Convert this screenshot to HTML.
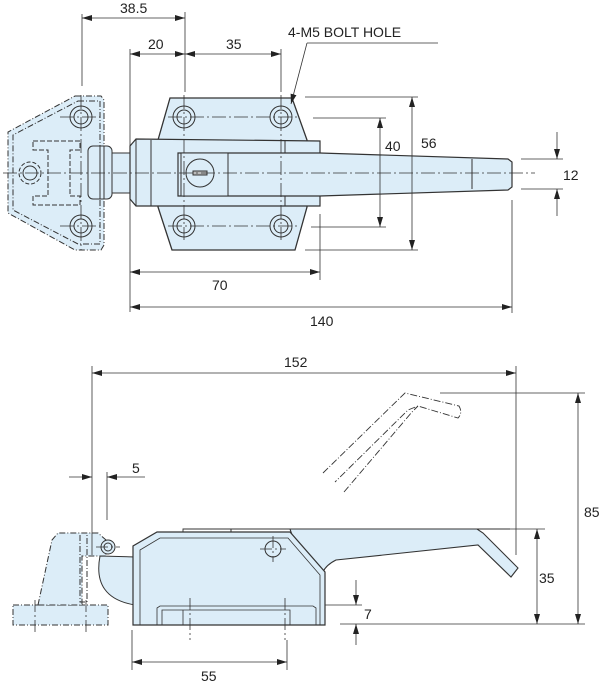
<!DOCTYPE html>
<html><head><meta charset="utf-8"><style>
html,body{margin:0;padding:0;background:#fff}
svg{display:block}
text{font-family:"Liberation Sans",sans-serif;font-size:14px;fill:#222}
</style></head><body>
<svg width="600" height="683" viewBox="0 0 600 683" xmlns="http://www.w3.org/2000/svg">
<defs>
<marker id="a" viewBox="0 0 10 6" refX="10" refY="3" markerWidth="10" markerHeight="6" orient="auto-start-reverse" markerUnits="userSpaceOnUse"><path d="M0,0 L10,3 L0,6z" fill="#222"/></marker>
</defs>
<g stroke="#333" stroke-width="1" fill="none">
<!-- ===== TOP VIEW ===== -->
<!-- hinge (dashed) -->
<path d="M75,96 L101,96 L104,100 L104,245 L101,250 L75,250 L8,213 L8,132 Z" fill="#dcedf8" stroke-dasharray="6,2,1,2"/>
<path d="M78,101 L100,101 L100,244 L78,244 L13,210 L13,135 Z" stroke-dasharray="6,2,1,2"/>
<path d="M33,141 L80,141 L80,150 L70,150 L70,196 L80,196 L80,205 L33,205 L33,196 L48,196 L48,150 L33,150 Z" stroke-dasharray="5,2"/>
<circle cx="81" cy="117" r="11"/><circle cx="81" cy="117" r="7"/>
<circle cx="81" cy="226" r="11"/><circle cx="81" cy="226" r="7"/>
<circle cx="30" cy="173" r="11" stroke-dasharray="4,2"/><circle cx="30" cy="173" r="7"/>
<!-- plate -->
<path d="M170,98 L292,98 L307,140 L307,207 L295,250 L172,250 L158,207 L158,140 Z" fill="#dcedf8" stroke-width="1.3"/>
<!-- shaft & roller -->
<rect x="104" y="153" width="28" height="40" fill="#dcedf8"/>
<rect x="88" y="146" width="24" height="53" rx="5" fill="#dcedf8"/>
<line x1="100" y1="146" x2="100" y2="199"/><line x1="104" y1="146" x2="104" y2="199"/>
<!-- body -->
<path d="M136,139 L320,141 L320,206 L136,206 L130,199 L130,146 Z" fill="#dcedf8" stroke-width="1.2"/>
<line x1="151" y1="140" x2="151" y2="206"/><line x1="285" y1="141" x2="285" y2="206"/>
<line x1="136" y1="139" x2="136" y2="206"/>
<!-- handle -->
<path d="M178,153 L320,153 L508,159 L512,162 L512,187 L508,190 L320,196 L178,196 Z" fill="#dcedf8" stroke-width="1.2"/>
<line x1="472" y1="159" x2="472" y2="189"/>
<rect x="181" y="153" width="47" height="43" fill="#dcedf8"/>
<circle cx="200" cy="173" r="14"/>
<rect x="193" y="171" width="14" height="4" fill="#bbb"/>
<!-- bolt holes -->
<circle cx="184" cy="117" r="11"/><circle cx="184" cy="117" r="7"/>
<circle cx="281" cy="117" r="11"/><circle cx="281" cy="117" r="7"/>
<circle cx="184" cy="226" r="11"/><circle cx="184" cy="226" r="7"/>
<circle cx="281" cy="226" r="11"/><circle cx="281" cy="226" r="7"/>
<g stroke-width="0.8" stroke-dasharray="14,3,2,3">
<line x1="3" y1="173" x2="535" y2="173"/>
<line x1="184" y1="95" x2="184" y2="240"/><line x1="281" y1="95" x2="281" y2="240"/>
<line x1="168" y1="117" x2="298" y2="117"/><line x1="168" y1="226" x2="298" y2="226"/>
<line x1="81" y1="95" x2="81" y2="250"/><line x1="60" y1="117" x2="100" y2="117"/><line x1="60" y1="226" x2="100" y2="226"/>
</g>
<!-- dimensions top -->
<g stroke-width="0.8">
<line x1="82" y1="14" x2="82" y2="86"/><line x1="185" y1="12" x2="185" y2="92"/>
<line x1="82" y1="18" x2="185" y2="18" marker-start="url(#a)" marker-end="url(#a)"/>
<line x1="130" y1="49" x2="130" y2="312"/><line x1="281" y1="49" x2="281" y2="92"/>
<line x1="130" y1="54" x2="185" y2="54" marker-start="url(#a)" marker-end="url(#a)"/>
<line x1="185" y1="54" x2="281" y2="54" marker-start="url(#a)" marker-end="url(#a)"/>
<line x1="307" y1="43" x2="438" y2="43"/><line x1="307" y1="43" x2="291" y2="104" marker-end="url(#a)"/>
<line x1="313" y1="118" x2="386" y2="118"/><line x1="311" y1="227" x2="386" y2="227"/>
<line x1="380" y1="118" x2="380" y2="227" marker-start="url(#a)" marker-end="url(#a)"/>
<line x1="305" y1="97" x2="418" y2="97"/><line x1="305" y1="250" x2="418" y2="250"/>
<line x1="412" y1="97" x2="412" y2="250" marker-start="url(#a)" marker-end="url(#a)"/>
<line x1="521" y1="159" x2="563" y2="159"/><line x1="521" y1="189" x2="563" y2="189"/>
<line x1="557" y1="132" x2="557" y2="159" marker-end="url(#a)"/><line x1="557" y1="216" x2="557" y2="189" marker-end="url(#a)"/>
<line x1="320" y1="214" x2="320" y2="280"/>
<line x1="130" y1="272" x2="320" y2="272" marker-start="url(#a)" marker-end="url(#a)"/>
<line x1="512" y1="200" x2="512" y2="313"/>
<line x1="130" y1="307" x2="512" y2="307" marker-start="url(#a)" marker-end="url(#a)"/>
</g>
<!-- ===== SIDE VIEW ===== -->
<!-- hinge dashed -->
<path d="M13,605 L108,605 L108,625 L13,625 Z" fill="#dcedf8" stroke-dasharray="6,2,1,2"/>
<path d="M38,605 L52,540 L58,533 L98,533 L106,540 L106,556 L82,556 L82,605 Z" fill="#dcedf8" stroke-dasharray="6,2,1,2"/>
<path d="M80,535 L80,602 L87,602 L87,535" stroke-dasharray="6,2,1,2"/>
<circle cx="108" cy="547" r="7" fill="#dcedf8"/><circle cx="108" cy="547" r="4"/>
<path d="M100,556 Q92,598 135,605 L135,557 Z" fill="#dcedf8"/>
<!-- handle closed -->
<path d="M290,529 L477,529 L483,533 L518,568 L511,577 L478,545 L336,560 Q326,565 323,572 L323,625 Z" fill="#dcedf8" stroke-width="1.1"/>
<!-- body -->
<path d="M133,625 L133,546 L157,532 L290,532 L325,572 L325,625 Z" fill="#dcedf8" stroke-width="1.2"/>
<path d="M140,625 L140,550 L160,538 L288,538 L320,575 L320,625" stroke-width="0.8"/>
<path d="M183,532 L183,529 L510,529" stroke-width="0.9"/>
<line x1="231" y1="529" x2="231" y2="532"/>
<circle cx="273" cy="549" r="8"/>
<path d="M157,625 L157,608 L160,606 L313,606 L316,608 L316,625 M162,625 L162,610 L290,610 L290,625 M183,625 L183,610" stroke-width="0.8"/>
<!-- handle open dashed -->
<path d="M323,473 L405,393 L459,406 Q463,413 458,418 L418,406 L408,410 L335,482" stroke-dasharray="7,2,1,2" stroke-width="0.9"/>
<path d="M344,492 L412,412 L418,406" stroke-dasharray="7,2,1,2" stroke-width="0.9"/>
<g stroke-width="0.8" stroke-dasharray="12,3,2,3">
<line x1="190" y1="598" x2="190" y2="640"/><line x1="285" y1="598" x2="285" y2="640"/>
<line x1="35" y1="600" x2="35" y2="632"/><line x1="86" y1="600" x2="86" y2="632"/>
<line x1="273" y1="536" x2="273" y2="562"/><line x1="260" y1="549" x2="286" y2="549"/>
<line x1="96" y1="547" x2="120" y2="547"/>
</g>
<!-- side dims -->
<g stroke-width="0.8">
<line x1="92" y1="366" x2="92" y2="555"/><line x1="516" y1="366" x2="516" y2="555"/>
<line x1="92" y1="373" x2="516" y2="373" marker-start="url(#a)" marker-end="url(#a)"/>
<line x1="440" y1="393" x2="585" y2="393"/>
<line x1="578" y1="393" x2="578" y2="624" marker-start="url(#a)" marker-end="url(#a)"/>
<line x1="490" y1="529" x2="545" y2="529"/>
<line x1="537" y1="529" x2="537" y2="624" marker-start="url(#a)" marker-end="url(#a)"/>
<line x1="340" y1="624" x2="585" y2="624"/>
<line x1="325" y1="605" x2="362" y2="605"/>
<line x1="356" y1="580" x2="356" y2="605" marker-end="url(#a)"/>
<line x1="356" y1="645" x2="356" y2="624" marker-end="url(#a)"/>
<line x1="107" y1="472" x2="107" y2="520"/>
<line x1="69" y1="477" x2="92" y2="477" marker-end="url(#a)"/>
<line x1="145" y1="477" x2="107" y2="477" marker-end="url(#a)"/>
<line x1="132" y1="630" x2="132" y2="670"/><line x1="287" y1="640" x2="287" y2="670"/>
<line x1="132" y1="662" x2="287" y2="662" marker-start="url(#a)" marker-end="url(#a)"/>
</g>
</g>
<text x="120" y="13">38.5</text>
<text x="148" y="49">20</text>
<text x="226" y="49">35</text>
<text x="288" y="37">4-M5 BOLT HOLE</text>
<text x="385" y="151">40</text>
<text x="421" y="148">56</text>
<text x="563" y="180">12</text>
<text x="212" y="290">70</text>
<text x="310" y="326">140</text>
<text x="284" y="367">152</text>
<text x="584" y="517">85</text>
<text x="539" y="583">35</text>
<text x="364" y="619">7</text>
<text x="132" y="473">5</text>
<text x="201" y="681">55</text>
</svg>
</body></html>
